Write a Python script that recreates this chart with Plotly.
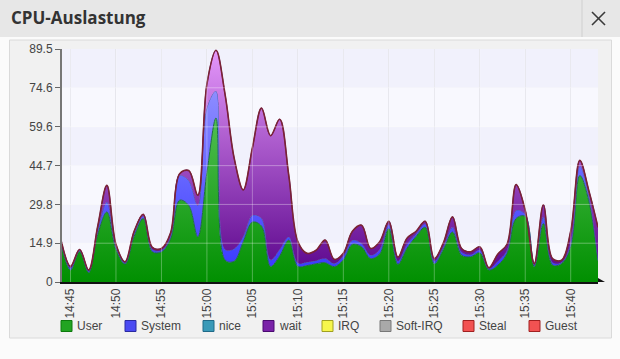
import plotly.graph_objects as go
import pandas as pd

# ---------------- data ----------------
times = pd.date_range("2024-05-06 14:44:00", periods=60, freq="min")

user = [14.0, 4.5, 11.6, 3.6, 18.3, 26.9, 12.5, 6.9, 17.5, 24.4,
        11.6, 11.6, 16.5, 31.4, 29.4, 17.3, 42.0, 63.0, 8.4, 8.0,
        15.5, 23.0, 21.5, 6.0, 10.0, 16.1, 6.0, 6.3, 7.0, 7.4,
        5.9, 8.5, 14.5, 13.5, 9.0, 10.8, 20.5, 6.8, 13.0, 17.5,
        21.0, 7.0, 12.5, 19.2, 10.3, 9.7, 11.2, 4.6, 6.5, 11.0,
        24.4, 25.2, 5.9, 22.4, 6.5, 7.1, 13.5, 40.9, 31.0, 8.0]
system = [1.0, 0.8, 0.6, 0.6, 1.7, 3.8, 1.1, 0.5, 1.3, 0.9,
          0.9, 0.6, 1.0, 9.5, 9.6, 12.1, 25.0, 10.4, 4.1, 4.8,
          2.0, 2.6, 3.0, 2.5, 2.5, 1.2, 1.3, 1.3, 1.2, 1.6,
          1.2, 1.5, 1.5, 1.3, 1.3, 1.7, 1.5, 1.2, 1.5, 1.0,
          1.3, 1.0, 1.0, 1.8, 1.2, 0.8, 1.1, 0.6, 1.5, 1.2,
          3.1, 0.8, 0.6, 2.6, 1.0, 0.5, 1.5, 3.8, 2.0, 0.5]
nice = [0.0] * 60
wait = [0.5, 0.7, 0.3, 0.4, 1.5, 6.4, 0.9, 0.4, 0.7, 0.7,
        0.8, 0.7, 1.3, 0.7, 3.8, 3.9, 9.0, 15.6, 59.5, 34.7,
        17.9, 25.9, 42.3, 47.7, 50.0, 23.7, 8.2, 3.4, 4.0, 7.1,
        1.6, 1.0, 3.5, 7.0, 2.6, 3.0, 1.3, 1.5, 2.3, 1.0,
        1.0, 1.0, 1.5, 4.0, 1.4, 1.1, 1.2, 0.3, 2.8, 2.3,
        9.9, 1.5, 0.6, 4.7, 1.5, 0.8, 4.5, 2.0, 2.0, 12.5]
irq = [0.0] * 60
softirq = [0.0] * 60
steal = [0.0] * 60
guest = [0.0] * 60

series_names = ["User", "System", "nice", "wait", "IRQ", "Soft-IRQ", "Steal", "Guest"]
series_values = [user, system, nice, wait, irq, softirq, steal, guest]

y_ticks = [0, 14.9, 29.8, 44.7, 59.6, 74.6, 89.5]
y_tick_labels = ["0", "14.9", "29.8", "44.7", "59.6", "74.6", "89.5"]
x_ticks = pd.date_range("2024-05-06 14:45", "2024-05-06 15:40", freq="5min")
x_range = ["2024-05-06 14:44:04", "2024-05-06 15:43:00"]

# ---------------- styles ----------------
W, H = 620, 359
ML, MR, MT, MB = 62, 22, 49, 77
PW, PH = W - ML - MR, H - MT - MB


def px_x(p):
    return (p - ML) / PW


def px_y(p):
    return (H - MB - p) / PH


fill_scales = {
    "User": [[0, "#008f00"], [1, "#72d272"]],
    "System": [[0, "#3434ff"], [1, "#a0a0ff"]],
    "wait": [[0, "#560088"], [1, "#e497fa"]],
}
line_styles = {
    "User": ("#1f6a45", 1),
    "System": ("#3f5fa8", 1),
    "wait": ("#5a1a7a", 1),
    "Guest": ("#7b2335", 1.6),
}

fig = go.Figure()
for name, vals in zip(series_names, series_values):
    col, wid = line_styles.get(name, ("rgba(0,0,0,0)", 0))
    kw = {}
    if name in fill_scales:
        kw["fillgradient"] = dict(type="vertical", colorscale=fill_scales[name],
                                  start=0, stop=89.5)
    else:
        kw["fillcolor"] = "rgba(0,0,0,0)"
    fig.add_trace(go.Scatter(
        x=times, y=vals, name=name, stackgroup="cpu", mode="lines",
        line=dict(color=col, width=wid, shape="spline", smoothing=1.0),
        showlegend=False, hoverinfo="skip", **kw))

shapes = []
# dialog header
shapes.append(dict(type="rect", xref="paper", yref="paper", x0=px_x(0), x1=px_x(W),
                   y0=px_y(37), y1=px_y(0), fillcolor="#e7e7e7", line_width=0, layer="below"))
shapes.append(dict(type="line", xref="paper", yref="paper", x0=px_x(582), x1=px_x(582),
                   y0=px_y(37), y1=px_y(0), line=dict(color="#cfcfcf", width=1), layer="below"))
# close button (thin X)
for (a, b, c, d) in [(592, 12, 605, 25), (592, 25, 605, 12)]:
    shapes.append(dict(type="line", xref="paper", yref="paper", x0=px_x(a), y0=px_y(b),
                       x1=px_x(c), y1=px_y(d), line=dict(color="#3a3a3a", width=1.6),
                       layer="below"))
# chart panel
shapes.append(dict(type="rect", xref="paper", yref="paper", x0=px_x(9.5), x1=px_x(611.5),
                   y0=px_y(338), y1=px_y(40), fillcolor="#f1f1f1",
                   line=dict(color="#dadada", width=1), layer="below"))
# alternating bands
band_cols = ["#f8f8fe", "#f1f1fc"]
for i in range(len(y_ticks) - 1):
    shapes.append(dict(type="rect", xref="x domain", yref="y", x0=0, x1=1,
                       y0=y_ticks[i], y1=y_ticks[i + 1], fillcolor=band_cols[i % 2],
                       line_width=0, layer="below"))
# grid lines drawn over the areas
for yv in y_ticks[1:-1]:
    shapes.append(dict(type="line", xref="x domain", yref="y", x0=0, x1=1, y0=yv, y1=yv,
                       line=dict(color="rgba(255,255,255,0.35)", width=1), layer="above"))
for xv in x_ticks:
    shapes.append(dict(type="line", xref="x", yref="y domain", x0=xv, x1=xv, y0=0, y1=1,
                       line=dict(color="rgba(255,255,255,0.3)", width=1), layer="above"))
# arrow at end of x axis
shapes.append(dict(type="path", xref="x domain", yref="y", xsizemode="pixel", ysizemode="pixel",
                   xanchor=1, yanchor=0, path="M0,-4 L7,0 L0,4 Z", fillcolor="#111",
                   line_width=0, layer="above"))

annotations = [
    dict(text="<b>CPU-Auslastung</b>", xref="paper", yref="paper", x=px_x(9), y=px_y(18),
         xanchor="left", yanchor="middle", showarrow=False,
         font=dict(family="Open Sans", size=17, color="#333333")),
]

# custom legend (square swatches)
legend_x = [61, 125, 203, 263, 322, 380, 463, 529]
legend_fill = ["#22a422", "#4a4af2", "#3a9ab8", "#7a22a8", "#f6f64c", "#a9a9a9", "#f25252", "#f25252"]
legend_line = ["#0c7a0c", "#2a2aa0", "#206a88", "#4a0a70", "#a0a020", "#787878", "#a02020", "#a02020"]
for name, lx, fc, lc in zip(series_names, legend_x, legend_fill, legend_line):
    shapes.append(dict(type="rect", xref="paper", yref="paper", x0=px_x(lx), x1=px_x(lx + 11),
                       y0=px_y(331.5), y1=px_y(320.5), fillcolor=fc,
                       line=dict(color=lc, width=1), layer="above"))
    annotations.append(dict(text=name, xref="paper", yref="paper", x=px_x(lx + 14), y=px_y(326),
                            xanchor="left", yanchor="middle", showarrow=False,
                            font=dict(family="Liberation Sans", size=12, color="#444444")))

fig.update_layout(
    width=W, height=H,
    margin=dict(l=ML, r=MR, t=MT, b=MB),
    paper_bgcolor="#fbfbfb", plot_bgcolor="rgba(0,0,0,0)",
    showlegend=False,
    shapes=shapes, annotations=annotations,
    font=dict(family="Liberation Sans", size=12, color="#444444"),
    xaxis=dict(range=x_range, tickvals=x_ticks, tickformat="%H:%M", tickangle=-90,
               showgrid=True, gridcolor="#e2e2ea", gridwidth=1,
               showline=True, linecolor="#111111", linewidth=1.5,
               ticks="", zeroline=False, tickfont=dict(size=12, color="#444444")),
    yaxis=dict(range=[0, 89.5], tickvals=y_ticks, ticktext=y_tick_labels,
               showgrid=False, zeroline=False,
               showline=True, linecolor="#777777", linewidth=2,
               ticks="outside", ticklen=5, tickcolor="#666666", tickwidth=1,
               tickfont=dict(size=12, color="#444444")),
)

fig.write_html("out.html", config={"displayModeBar": False},
               post_script="document.body.style.margin='0';document.body.style.overflow='hidden';")
